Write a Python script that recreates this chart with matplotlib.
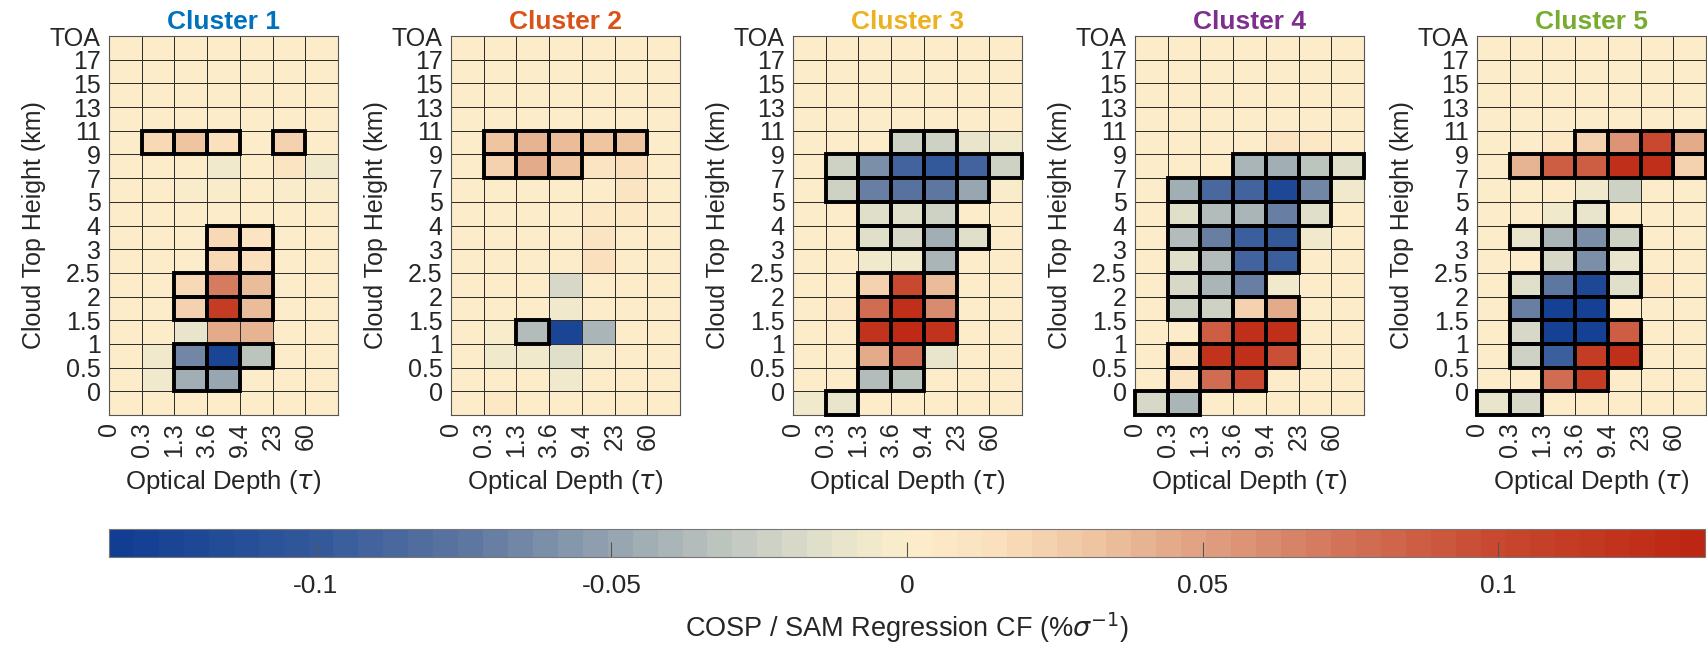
import numpy as np
import matplotlib
matplotlib.use('Agg')
import matplotlib.pyplot as plt
from matplotlib.colors import LinearSegmentedColormap, Normalize
from matplotlib.patches import Rectangle
from matplotlib.cm import ScalarMappable

plt.rcParams['font.family'] = ['Liberation Sans', 'DejaVu Sans']

# region Data
tau_labels = ['0', '0.3', '1.3', '3.6', '9.4', '23', '60']
height_labels = ['0', '0.5', '1', '1.5', '2', '2.5', '3', '4', '5', '7', '9',
                 '11', '13', '15', '17', 'TOA']
titles = ['Cluster 1', 'Cluster 2', 'Cluster 3', 'Cluster 4', 'Cluster 5']
title_colors = ['#0072BD', '#D95319', '#EDB120', '#7E2F8E', '#77AC30']

Z = [0] * 7

# rows listed from the top (17-TOA) down to the bottom bin (below 0 km)
cluster1 = [
    Z, Z, Z, Z,
    [0, 0.02, 0.03, 0.015, 0.003, 0.022, 0],
    [0, 0, 0, -0.008, 0.002, 0.01, -0.005],
    [0, 0, -0.004, -0.004, 0, -0.004, -0.004],
    Z,
    [0, 0, 0, 0.018, 0.012, 0, 0],
    [0, 0, 0, 0.018, 0.015, 0, 0],
    [0, 0, 0.02, 0.07, 0.035, 0, 0],
    [0, 0, 0.025, 0.11, 0.035, 0, 0],
    [0, 0, -0.01, 0.045, 0.04, 0, 0],
    [0, -0.006, -0.065, -0.125, -0.03, 0, 0],
    [0, -0.006, -0.045, -0.05, 0, 0, 0],
    Z,
]
cluster2 = [
    Z, Z, Z, Z,
    [0, 0.03, 0.04, 0.035, 0.03, 0.03, 0],
    [0, 0.025, 0.045, 0.03, 0.012, 0.015, 0],
    [0, 0, 0, 0, 0, 0.01, 0],
    [0, 0, 0, 0, 0.006, 0.008, 0],
    [0, 0, 0, 0, 0.01, 0.004, 0],
    [0, 0, 0, 0.002, 0.015, 0, 0],
    [0, 0, 0, -0.02, 0, 0, 0],
    [0, 0, 0, -0.008, 0, 0, 0],
    [0, -0.004, -0.035, -0.125, -0.04, 0, 0],
    [0, -0.006, -0.008, -0.015, -0.004, 0, 0],
    [0, 0, 0, -0.006, 0, 0, 0],
    [0, 0.008, 0, 0, 0, 0, 0],
]
cluster3 = [
    Z, Z, Z, Z,
    [0, 0, 0, -0.025, -0.025, -0.01, -0.006],
    [0, -0.025, -0.06, -0.09, -0.1, -0.09, -0.025],
    [0, -0.025, -0.07, -0.08, -0.075, -0.05, -0.003],
    [0, 0, -0.015, -0.015, -0.025, 0, 0],
    [0, 0, -0.015, -0.02, -0.045, -0.015, 0],
    [0, 0, -0.005, -0.005, -0.04, 0, 0],
    [0, 0, 0.025, 0.1, 0.035, 0, 0],
    [0, 0.008, 0.08, 0.125, 0.06, 0, 0],
    [0, 0, 0.12, 0.128, 0.12, 0, 0],
    [0, 0, 0.045, 0.078, -0.01, 0, 0],
    [0, 0, -0.035, -0.03, 0, 0, 0],
    [-0.008, -0.012, 0, 0, 0, 0, 0],
]
cluster4 = [
    Z, Z, Z, Z,
    [0, 0, 0, 0, 0.01, 0.008, 0],
    [0, 0, 0, -0.04, -0.045, -0.03, -0.015],
    [0, -0.045, -0.085, -0.09, -0.122, -0.065, -0.005],
    [0, -0.015, -0.035, -0.04, -0.07, -0.015, 0],
    [0, -0.035, -0.07, -0.095, -0.1, -0.005, 0],
    [0, -0.015, -0.035, -0.09, -0.095, 0, 0],
    [0, -0.018, -0.04, -0.07, -0.006, 0, 0],
    [0, -0.025, -0.025, 0.025, 0.045, 0, 0],
    [0, 0.004, 0.085, 0.125, 0.125, 0, 0],
    [0, 0.01, 0.12, 0.125, 0.095, 0, 0],
    [0, 0.01, 0.08, 0.1, 0, 0, 0],
    [-0.018, -0.04, 0, 0, 0, 0, 0],
]
cluster5 = [
    Z, Z, Z, Z,
    [0, 0, 0.008, 0.025, 0.055, 0.1, 0.045],
    [0, 0.04, 0.085, 0.085, 0.125, 0.125, 0.025],
    [0, 0, 0, -0.008, -0.025, 0, 0],
    [0, 0, -0.005, -0.012, 0, 0, 0],
    [0, -0.012, -0.04, -0.06, -0.025, 0, 0],
    [0, 0, -0.02, -0.06, -0.012, 0, 0],
    [0, -0.015, -0.075, -0.12, -0.015, 0.006, 0],
    [0, -0.07, -0.13, -0.13, 0, 0, 0],
    [0, -0.02, -0.13, -0.13, 0.085, 0, 0],
    [0, -0.025, -0.095, 0.11, 0.125, 0, 0],
    [0, 0, 0.08, 0.11, 0, 0, 0],
    [-0.01, -0.02, 0, 0, 0, 0, 0],
]

# significant cells, same row order ('1' = outlined)
E = '0000000'
sig1 = [E, E, E, E, '0111010', E, E, E, '0001100', '0001100', '0011100',
        '0011100', E, '0011100', '0011000', E]
sig2 = [E, E, E, E, '0111110', '0111000', E, E, E, E, E, E, '0010000',
        E, E, E]
sig3 = [E, E, E, E, '0001100', '0111111', '0111110', '0011100', '0011110',
        '0000100', '0011100', '0011100', '0011100', '0011000', '0011000',
        '0100000']
sig4 = [E, E, E, E, E, '0001111', '0111110', '0111110', '0111100',
        '0111100', '0111000', '0111100', '0011100', '0111100', '0111000',
        '1100000']
sig5 = [E, E, E, E, '0001111', '0111111', E, '0001000', '0111100',
        '0011100', '0111100', '0111000', '0111100', '0111100', '0011000',
        '1100000']

clusters = [cluster1, cluster2, cluster3, cluster4, cluster5]
significance = [sig1, sig2, sig3, sig4, sig5]
cbar_ticks = [-0.1, -0.05, 0, 0.05, 0.1]
cbar_ticklabels = ['-0.1', '-0.05', '0', '0.05', '0.1']
# endregion

# region Colormap
vlim = 0.135
nodes = [(-0.135, '#113e93'), (-0.1, '#355a9b'), (-0.075, '#5e77a0'),
         (-0.05, '#96a5b0'), (-0.025, '#cbd0c4'), (-0.01, '#ebe6cc'),
         (0.0, '#fdeecb'), (0.015, '#fae0bd'), (0.03, '#f0c8a5'),
         (0.05, '#e0a283'), (0.075, '#d27359'), (0.1, '#c84a30'),
         (0.135, '#bd2612')]
cmap = LinearSegmentedColormap.from_list(
    'bluered', [((v + vlim) / (2 * vlim), c) for v, c in nodes], N=64)
norm = Normalize(-vlim, vlim)
# endregion

W, H = 1708, 646
fig = plt.figure(figsize=(W / 100, H / 100), dpi=100)


def px_axes(left, top, right, bottom):
    return fig.add_axes([left / W, 1 - bottom / H, (right - left) / W,
                         (bottom - top) / H])


lefts = [109, 451, 793, 1135, 1477]
for k in range(5):
    ax = px_axes(lefts[k], 36, lefts[k] + 229, 415)
    data = np.flipud(np.array(clusters[k], dtype=float))
    mask = np.flipud(np.array([[c == '1' for c in row]
                               for row in significance[k]]))
    ax.pcolormesh(np.arange(8), np.arange(17), data, cmap=cmap, norm=norm,
                  edgecolors='#2e2e2e', linewidth=0.65)
    for r, c in zip(*np.nonzero(mask)):
        ax.add_patch(Rectangle((c, r), 1, 1, fill=False, edgecolor='black',
                               linewidth=2.8, zorder=3, clip_on=False))
    ax.set_xlim(0, 7)
    ax.set_ylim(0, 16)
    ax.set_xticks(range(7))
    ax.set_xticklabels(tau_labels, rotation=90, fontsize=18)
    ax.set_yticks(range(1, 17))
    ax.set_yticklabels(height_labels, fontsize=18)
    ax.tick_params(length=0, pad=6, colors='#262626')
    ax.tick_params(axis='x', pad=5)
    for s in ax.spines.values():
        s.set_color('#555555')
        s.set_linewidth(0.8)
    ax.set_ylabel('Cloud Top Height (km)', fontsize=18, color='#262626',
                  labelpad=3)
    ax.set_xlabel(r'Optical Depth ($\tau$)', fontsize=18.5, color='#262626',
                  labelpad=8)
    ax.set_title(titles[k], color=title_colors[k], fontsize=19,
                 fontweight='bold', pad=5)

# region Colorbar
cax = px_axes(109, 529, 1705, 557)
sm = ScalarMappable(norm=norm, cmap=cmap)
cb = fig.colorbar(sm, cax=cax, orientation='horizontal')
cb.set_ticks(cbar_ticks)
cb.set_ticklabels(cbar_ticklabels)
cax.tick_params(direction='in', length=11, width=0.8, color='#555555',
                labelsize=19, labelcolor='#262626', pad=12)
cb.outline.set_edgecolor('#777777')
cb.outline.set_linewidth(0.8)
cax.set_xlabel(r'COSP / SAM Regression CF (%$\sigma^{-1}$)', fontsize=19.5,
               color='#262626', labelpad=9)
# endregion

fig.savefig('out.png', dpi=100, facecolor='white')
